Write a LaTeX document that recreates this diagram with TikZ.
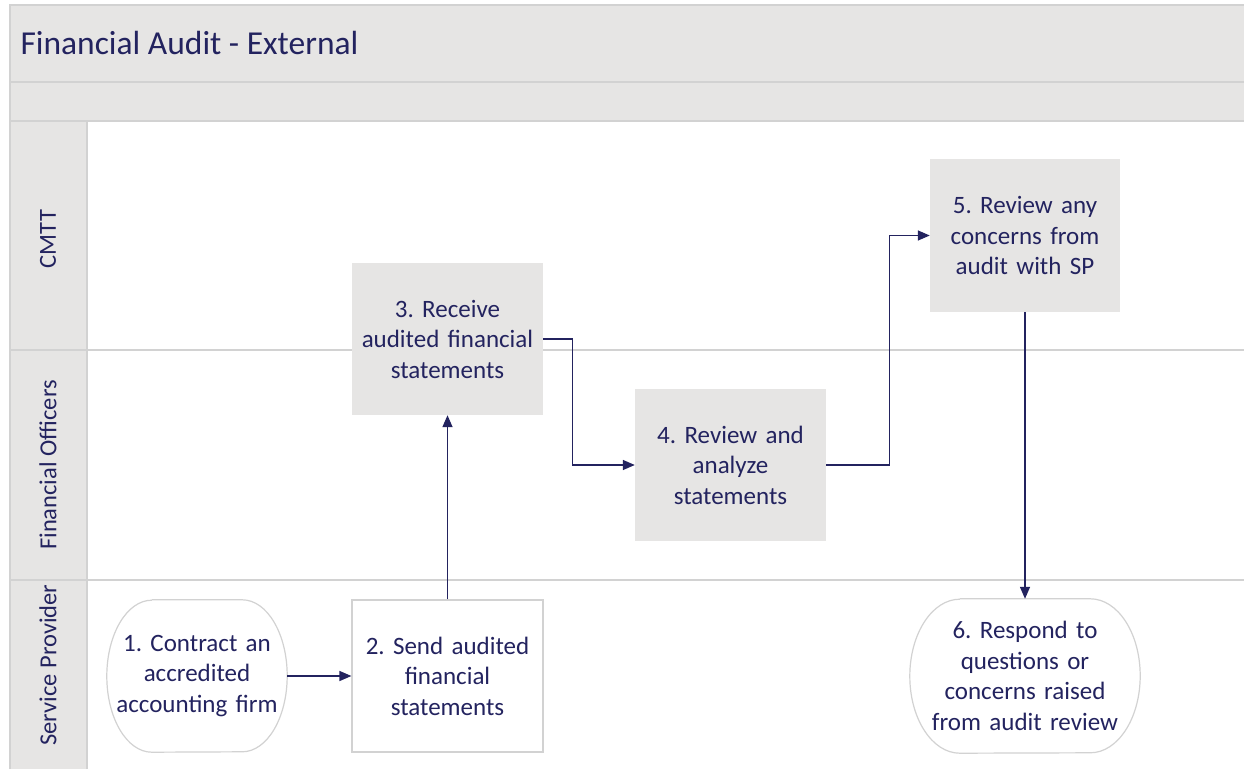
\documentclass[tikz,border=0pt]{standalone}
\usepackage{fontspec}
\setmainfont{Carlito}
\usetikzlibrary{arrows.meta,calc}
\definecolor{bandgray}{HTML}{E6E5E4}
\definecolor{rulegray}{HTML}{D2D2D2}
\definecolor{navy}{HTML}{23235F}
\tikzset{
  stepbox/.style={rectangle, minimum width=191pt, minimum height=152pt,
    text width=185pt, align=center, text=navy, inner sep=0pt,
    font=\fontsize{25}{30.5}\selectfont},
  graybox/.style={stepbox, fill=bandgray},
  whitebox/.style={stepbox, fill=white, draw=rulegray, line width=1.2pt},
  endbox/.style={stepbox, fill=white},
  termline/.style={draw=rulegray, line width=1.2pt},
  flow/.style={draw=navy, line width=1.4pt, -{Triangle[length=12pt,width=10pt]}},
  lanelabel/.style={rotate=90, text=navy, font=\fontsize{24.5}{30}\selectfont},
  laneline/.style={draw=rulegray, line width=1.4pt}
}
\begin{document}
\frenchspacing
\begin{tikzpicture}[x=1pt,y=1pt]
\useasboundingbox (0,0) rectangle (1244,769);
% header bands and lane heading column
\fill[bandgray] (10,648) rectangle (1244,764);
\fill[bandgray] (10,0) rectangle (87,648);
\fill[white] (87,0) rectangle (1244,648);
\draw[laneline] (10,0) -- (10,764) -- (1244,764);
\draw[laneline] (10,687) -- (1244,687);
\draw[laneline] (10,648) -- (1244,648);
\draw[laneline] (87,0) -- (87,648);
\draw[laneline] (10,419) -- (1244,419);
\draw[laneline] (10,189) -- (1244,189);
\node[anchor=west, text=navy, font=\fontsize{33.5}{38}\selectfont] (title) at (17,726) {Financial Audit - External};
% lane names
\node[lanelabel] (lane1) at (48,530) {CMTT};
\node[lanelabel] (lane2) at (48,304) {Financial Officers};
\node[lanelabel] (lane3) at (48,104) {Service Provider};
% process steps
\node[endbox, minimum width=180pt, text width=175pt] (n1) at (197,93) {1. Contract an\\accredited\\accounting firm};
\node[whitebox] (n2) at (447.5,93) {2. Send audited\\financial\\statements};
\node[graybox] (n3) at (447.5,430) {3. Receive\\audited financial\\statements};
\node[graybox] (n4) at (730.5,304) {4. Review and\\analyze\\statements};
\node[graybox, minimum width=190pt, minimum height=153pt] (n5) at (1025,533.5) {5. Review any\\concerns from\\audit with SP};
\node[endbox, minimum width=230pt, minimum height=154pt, text width=220pt] (n6) at (1025,93) {6. Respond to\\questions or\\concerns raised\\from audit review};
% terminator outlines: straight top and bottom, elliptic sides
\draw[termline] ($(n1.north west)+(45,0)$) -- ($(n1.north east)+(-45,0)$)
  arc[start angle=90, end angle=-90, x radius=45, y radius=76]
  -- ($(n1.south west)+(45,0)$)
  arc[start angle=270, end angle=90, x radius=45, y radius=76];
\draw[termline] ($(n6.north west)+(50,0)$) -- ($(n6.north east)+(-50,0)$)
  arc[start angle=90, end angle=-90, x radius=50, y radius=77]
  -- ($(n6.south west)+(50,0)$)
  arc[start angle=270, end angle=90, x radius=50, y radius=77];
% connectors
\draw[flow] (n1.east) -- (n2.west);
\draw[flow] (n2.north) -- (n3.south);
\draw[flow] (n3.east) -- ++(29,0) |- (n4.west);
\draw[flow] (n4.east) -- ++(63,0) |- (n5.west);
\draw[flow] (n5.south) -- (n6.north);
\end{tikzpicture}
\end{document}
